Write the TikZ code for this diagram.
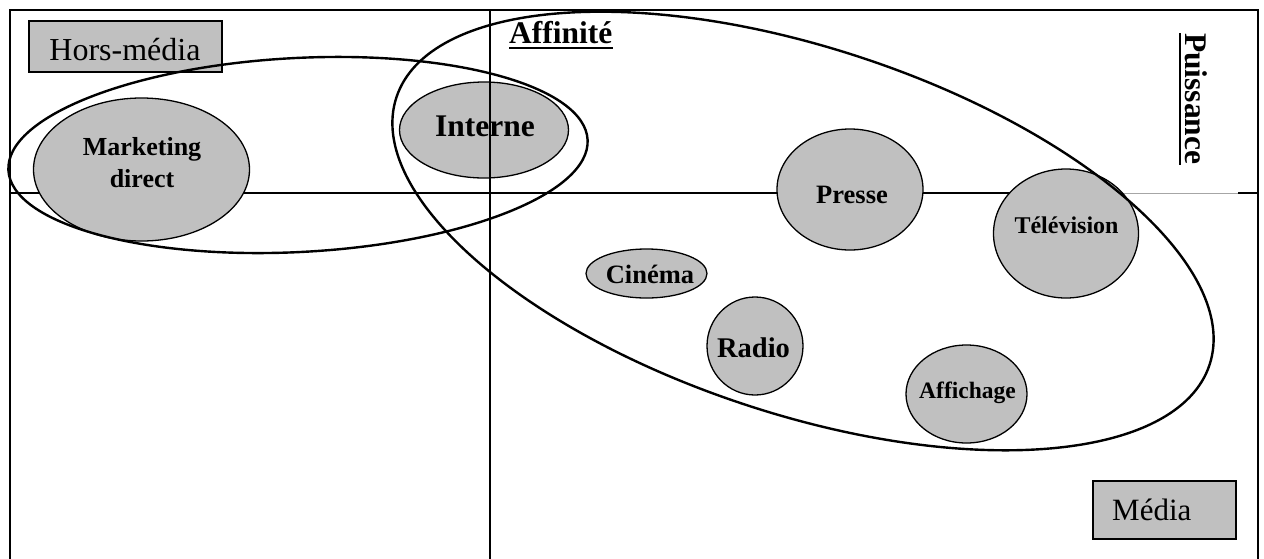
\documentclass[tikz,border=0pt]{standalone}
\usepackage{fontspec}
\setmainfont{Liberation Serif}
\usetikzlibrary{shapes.geometric}
\definecolor{mgrey}{RGB}{192,192,192}

\begin{document}
\begin{tikzpicture}[x=1pt,y=-1pt,
  axis/.style={line width=1.6pt},
  medium/.style={ellipse, draw, fill=mgrey, line width=1.3pt, inner sep=0pt},
  group/.style={ellipse, draw, line width=2.4pt, inner sep=0pt},
  tagbox/.style={draw, fill=mgrey, line width=1.3pt, inner sep=0pt},
  word/.style={inner sep=0pt, anchor=base, font=\bfseries\fontsize{#1}{#1}\selectfont},
  plain/.style={inner sep=0pt, font=\fontsize{#1}{#1}\selectfont},
]
\useasboundingbox (0,0) rectangle (1264,558);
\clip (0,0) rectangle (1264,558);

% outer frame (open at the bottom)
\draw[axis] (10,560) -- (10,10) -- (1258,10) -- (1258,560);

% horizontal axis
\draw[axis] (10,193) -- (1110,193);
\draw[line width=0.8pt, black!35] (1110,193) -- (1238,193);
\draw[axis] (1238,193) -- (1258,193);

% category boxes
\node[tagbox, minimum width=193pt, minimum height=51pt] (hors) at (125.5,46.5) {};
\node[plain=32, anchor=base] (hors-t) at (125,60) {Hors-média};
\node[tagbox, minimum width=143pt, minimum height=58pt] (media) at (1164.5,510) {};
\node[plain=31, anchor=base west] (media-t) at (1112,520) {Média};

% media ellipses
\node[medium, minimum width=216pt, minimum height=143pt] (mkt) at (141.5,169.5) {};
\node[medium, minimum width=169pt, minimum height=96pt] (interne) at (484,130) {};
\node[medium, minimum width=146pt, minimum height=121pt] (presse) at (850,189.5) {};
\node[medium, minimum width=145pt, minimum height=129pt] (tele) at (1066,233.5) {};
\node[medium, minimum width=121pt, minimum height=49pt] (cinema) at (646.5,273.5) {};
\node[medium, minimum width=96pt, minimum height=98pt] (radio) at (755,346) {};
\node[medium, minimum width=121pt, minimum height=98pt] (affich) at (966.5,394) {};

% ellipse labels
\node[word=26] (mkt-t1) at (142,155) {Marketing};
\node[word=26] (mkt-t2) at (142,187) {direct};
\node[word=31.5] (interne-t) at (485,136) {Interne};
\node[word=26.5] (presse-t) at (852,203) {Presse};
\node[word=24] (tele-t) at (1066.5,233) {Télévision};
\node[word=26.5] (cinema-t) at (650,283) {Cinéma};
\node[word=28.5] (radio-t) at (753.5,357) {Radio};
\node[word=23.5] (affich-t) at (967.5,398) {Affichage};

% vertical axis, drawn over the internal medium
\draw[axis] (490,10) -- (490,560);

% groupings
\node[group, minimum width=580pt, minimum height=194pt, rotate=3] (horsgroup) at (298,155) {};
\node[group, minimum width=856pt, minimum height=366pt, rotate=-18.2] (mediagroup) at (803,231) {};

% axis titles
\node[word=31.5, anchor=base west] (aff) at (509,43) {Affinité};
\draw[line width=2.6pt] ([yshift=-5pt]aff.base west) -- ([yshift=-5pt]aff.base east);
\node[word=31.5, anchor=base west, rotate=-90] (puis) at (1185,33) {Puissance};
\draw[line width=2.6pt] ([xshift=-5pt]puis.base west) -- ([xshift=-5pt]puis.base east);
\end{tikzpicture}
\end{document}
